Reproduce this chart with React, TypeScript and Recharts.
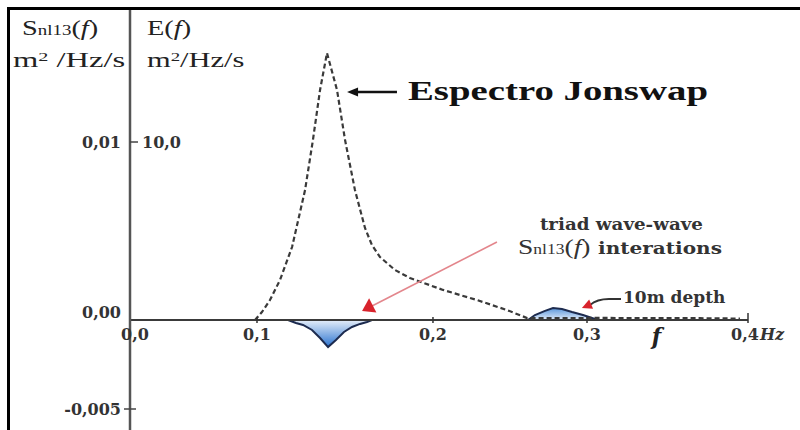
import React from 'react';
import { ComposedChart, Line, Area, XAxis, YAxis, ReferenceLine, ReferenceDot } from 'recharts';

// JONSWAP spectrum E(f) (m²/Hz/s), frequency in axis units (Hz)
const freqE = [0.0809, 0.0854, 0.0906, 0.0971, 0.1049, 0.1133, 0.1184, 0.123, 0.1275, 0.134, 0.1392, 0.1456, 0.1521, 0.1566, 0.1618, 0.1715, 0.1812, 0.2026, 0.2246, 0.244, 0.257, 0.2783, 0.3042, 0.3366, 0.3689, 0.3948];
const energyE = [0, 0.45, 1.12, 2.25, 4.1, 7.3, 10.11, 12.92, 15.0, 12.92, 10.11, 7.3, 5.17, 4.21, 3.54, 2.81, 2.36, 1.69, 1.12, 0.56, 0.11, 0.1, 0.12, 0.1, 0.1, 0.08];

// Triad wave-wave interaction source term Snl13(f)
const freqS = [0.1023, 0.1074, 0.112, 0.1178, 0.123, 0.1282, 0.1333, 0.1385, 0.1437, 0.1489, 0.1534, 0.1566, 0.2576, 0.2621, 0.2686, 0.2738, 0.2796, 0.2861, 0.2932, 0.299, 0.3029];
const snl13 = [0, -0.00017, -0.00028, -0.00056, -0.00101, -0.00152, -0.00112, -0.00067, -0.00039, -0.00022, -0.00011, 0, 0, 0.00028, 0.00051, 0.00067, 0.00062, 0.00045, 0.00028, 0.00011, 0];

// Axis ticks
const xTickPos = [0, 0.0822, 0.1961, 0.2958, 0.4];
const xTickLabels = ['0,0', '0,1', '0,2', '0,3', '0,4'];
const sTicks = [0.01, 0, -0.005];
const sTickLabels = ['0,01', '0,00', '-0,005'];
const eTicks = [10];
const eTickLabels = ['10,0'];
const sDomain = [-0.0061798, 0.017416];
const eDomain = [-6.1798, 17.416];

// Annotation anchors (data coordinates: f, Snl13 units)
const jonswapArrow = [{ x: 0.1728, y: 0.01281 }, { x: 0.1405, y: 0.01281 }];
const triadArrow = [{ x: 0.2375, y: 0.00438 }, { x: 0.1502, y: 0.00051 }];
const depthArrow = [{ x: 0.3178, y: 0.00118 }, { x: 0.2925, y: 0.00067 }];

const eData = freqE.map((f, i) => ({ f, e: energyE[i] }));
const sData = freqS.map((f, i) => ({ f, s: snl13[i] }));

const TICK_FONT = 'DejaVu Serif';

const head = (x1: number, y1: number, x2: number, y2: number, len: number, half: number) => {
  const dx = x2 - x1;
  const dy = y2 - y1;
  const d = Math.sqrt(dx * dx + dy * dy) || 1;
  const ux = dx / d;
  const uy = dy / d;
  const bx = x2 - ux * len;
  const by = y2 - uy * len;
  return `${x2},${y2} ${bx - uy * half},${by + ux * half} ${bx + uy * half},${by - ux * half}`;
};

const JonswapArrow = (p: any) => {
  const { x1, y1, x2, y2 } = p;
  return (
    <g>
      <line x1={x1} y1={y1} x2={x2 + 8} y2={y2} stroke="#111" strokeWidth={2.5} />
      <polygon points={head(x1, y1, x2, y2, 11, 4.5)} fill="#111" />
      <text x={x1 + 11} y={y1 + 8} fontFamily="Liberation Serif" fontWeight="bold" fontSize={27} fill="#111" textLength={300} lengthAdjust="spacingAndGlyphs">
        Espectro Jonswap
      </text>
    </g>
  );
};

const TriadArrow = (p: any) => {
  const { x1, y1, x2, y2 } = p;
  return (
    <g>
      <line x1={x1} y1={y1} x2={x2 + 8} y2={y2 - 4} stroke="#e3868c" strokeWidth={1.6} />
      <polygon points={head(x1, y1, x2, y2, 12, 8)} fill="#d8232c" />
      <text x={x1 + 43} y={y1 - 12} fontFamily={TICK_FONT} fontWeight="bold" fontSize={16} fill="#333" textLength={163} lengthAdjust="spacingAndGlyphs">
        triad wave-wave
      </text>
      <text x={x1 + 21} y={y1 + 12} fontFamily="Liberation Serif" fontSize={22} fill="#333" textLength={204} lengthAdjust="spacingAndGlyphs">
        S
        <tspan fontSize={14}>nl13</tspan>
        <tspan>(</tspan>
        <tspan fontStyle="italic">f</tspan>
        <tspan>)</tspan>
        <tspan fontFamily={TICK_FONT} fontWeight="bold" fontSize={16} dx={6}>interations</tspan>
      </text>
    </g>
  );
};

const DepthArrow = (p: any) => {
  const { x1, y1, x2, y2 } = p;
  return (
    <g>
      <path d={`M ${x1} ${y1} L ${x1 - 12} ${y1} Q ${x1 - 24} ${y1} ${x2 + 8} ${y2 - 3}`} fill="none" stroke="#333" strokeWidth={1.8} />
      <polygon points={head(x1 - 20, y1 + 1, x2, y2, 10, 5)} fill="#d8232c" />
      <text x={x1 + 2} y={y1 + 4} fontFamily={TICK_FONT} fontWeight="bold" fontSize={17} fill="#333">
        10m depth
      </text>
    </g>
  );
};

const XTickMark = (label: string, isLast: boolean, isFirst: boolean) => (p: any) => {
  const { cx, cy } = p;
  return (
    <g>
      {!isFirst && <line x1={cx} y1={cy - (isLast ? 7 : 3)} x2={cx} y2={cy + 3} stroke="#333" strokeWidth={1.5} />}
      <text x={cx + (isFirst ? 5 : isLast ? -3 : 0)} y={cy + 20} textAnchor="middle" fontFamily={TICK_FONT} fontWeight="bold" fontSize={16} fill="#333">
        {label}
      </text>
      {isLast && (
        <text x={cx + 12} y={cy + 20} fontFamily={TICK_FONT} fontStyle="italic" fontWeight="bold" fontSize={16} fill="#333">
          Hz
        </text>
      )}
    </g>
  );
};

const FLabel = (p: any) => {
  const { cx, cy } = p;
  return (
    <text x={cx} y={cy + 24} textAnchor="middle" fontFamily={TICK_FONT} fontStyle="italic" fontWeight="bold" fontSize={22} fill="#222">
      f
    </text>
  );
};

const STick = (p: any) => {
  const { x, y, payload } = p;
  const v = payload.value;
  const idx = sTicks.indexOf(v);
  const label = idx >= 0 ? sTickLabels[idx] : '';
  const dy = v === 0 ? -2 : 6;
  return (
    <g>
      {v === -0.005 && <line x1={x - 6} y1={y} x2={x + 6} y2={y} stroke="#444" strokeWidth={1.5} />}
      <text x={x - 9} y={y + dy} textAnchor="end" fontFamily={TICK_FONT} fontWeight="bold" fontSize={16} fill="#333">
        {label}
      </text>
    </g>
  );
};

const ETick = (p: any) => {
  const { x, y, payload } = p;
  const idx = eTicks.indexOf(payload.value);
  return (
    <g>
      <line x1={x} y1={y} x2={x + 8} y2={y} stroke="#444" strokeWidth={1.5} />
      <text x={x + 12} y={y + 6} textAnchor="start" fontFamily={TICK_FONT} fontWeight="bold" fontSize={16} fill="#333">
        {idx >= 0 ? eTickLabels[idx] : ''}
      </text>
    </g>
  );
};

const headerStyle: React.CSSProperties = {
  position: 'absolute',
  fontFamily: 'Liberation Serif',
  fontSize: 21,
  color: '#222',
  lineHeight: 1,
  whiteSpace: 'nowrap',
  transformOrigin: 'left top',
};

export default function App() {
  return (
    <div style={{ position: 'absolute', left: 0, top: 0, width: 800, height: 430, background: '#fff', overflow: 'hidden' }}>
      <div style={{ position: 'absolute', left: 7, top: 7, width: 793, height: 423, borderTop: '3px solid #000', borderLeft: '3px solid #000', boxSizing: 'border-box' }} />
      <ComposedChart width={800} height={430} margin={{ top: 10, right: 52, bottom: 0, left: 0 }} style={{ position: 'absolute', left: 0, top: 0 }}>
        <defs>
          <linearGradient id="snlGrad" x1="0" y1="0" x2="0" y2="1">
            <stop offset="0" stopColor="#5b97dc" />
            <stop offset="0.31" stopColor="#e4edf9" />
            <stop offset="1" stopColor="#2a73cf" />
          </linearGradient>
        </defs>
        <XAxis xAxisId={0} type="number" dataKey="f" domain={[0, 0.4]} allowDataOverflow hide />
        <YAxis
          yAxisId="s"
          type="number"
          domain={sDomain}
          allowDataOverflow
          ticks={sTicks}
          interval={0}
          width={130}
          tickSize={0}
          tickMargin={0}
          tickLine={false}
          axisLine={{ stroke: '#555', strokeWidth: 2.5 }}
          tick={STick}
        />
        <YAxis
          yAxisId="e"
          type="number"
          orientation="left"
          mirror
          domain={eDomain}
          allowDataOverflow
          ticks={eTicks}
          interval={0}
          tickSize={0}
          tickMargin={0}
          tickLine={false}
          axisLine={false}
          tick={ETick}
        />
        <Area
          data={sData}
          dataKey="s"
          xAxisId={0}
          yAxisId="s"
          type="linear"
          baseValue={0}
          stroke="#1d2b4f"
          strokeWidth={2}
          fill="url(#snlGrad)"
          fillOpacity={1}
          dot={false}
          activeDot={false}
          isAnimationActive={false}
        />
        <Line
          data={eData}
          dataKey="e"
          xAxisId={0}
          yAxisId="e"
          type="linear"
          stroke="#3a3a3a"
          strokeWidth={2.2}
          strokeDasharray="5 3"
          dot={false}
          activeDot={false}
          isAnimationActive={false}
        />
        <ReferenceLine yAxisId="s" y={0} stroke="#3a3a3a" strokeWidth={2} />
        {xTickPos.map((t, i) => (
          <ReferenceDot
            key={t}
            xAxisId={0}
            yAxisId="s"
            x={t}
            y={0}
            r={0}
            shape={XTickMark(xTickLabels[i], i === xTickPos.length - 1, i === 0)}
          />
        ))}
        <ReferenceDot xAxisId={0} yAxisId="s" x={0.3408} y={0} r={0} shape={FLabel} />
        <ReferenceLine xAxisId={0} yAxisId="s" segment={jonswapArrow} shape={JonswapArrow} />
        <ReferenceLine xAxisId={0} yAxisId="s" segment={triadArrow} shape={TriadArrow} />
        <ReferenceLine xAxisId={0} yAxisId="s" segment={depthArrow} shape={DepthArrow} />
      </ComposedChart>
      <div style={{ ...headerStyle, left: 22, top: 18, transform: 'scaleX(1.35)' }}>
        S<span style={{ fontSize: 14 }}>nl13</span>(<i>f</i>)
      </div>
      <div style={{ ...headerStyle, left: 13, top: 50, transform: 'scaleX(1.55)' }}>
        m<sup style={{ fontSize: 13, verticalAlign: 6 }}>2</sup> /Hz/s
      </div>
      <div style={{ ...headerStyle, left: 147, top: 18, transform: 'scaleX(1.35)' }}>
        E(<i>f</i>)
      </div>
      <div style={{ ...headerStyle, left: 147, top: 50, transform: 'scaleX(1.45)' }}>
        m<sup style={{ fontSize: 13, verticalAlign: 6 }}>2</sup>/Hz/s
      </div>
    </div>
  );
}
